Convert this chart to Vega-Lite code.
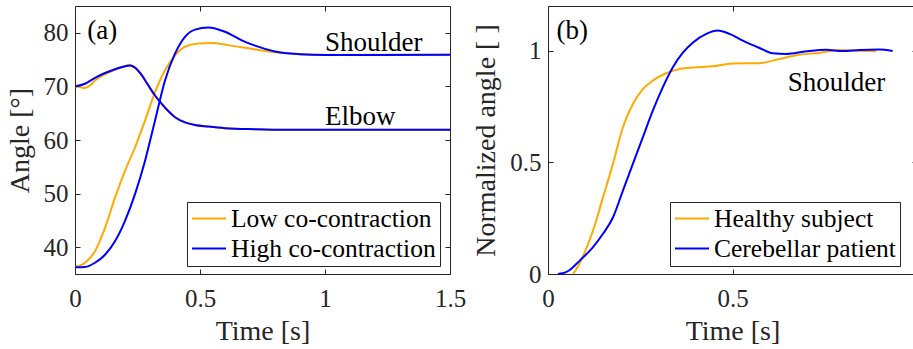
{
  "$schema": "https://vega.github.io/schema/vega-lite/v6.json",
  "background": "white",
  "padding": {"left": 5, "top": 5, "right": 0, "bottom": 0},
  "bounds": "flush",
  "spacing": 98,
  "config": {
    "font": "'Liberation Serif', 'DejaVu Serif', serif",
    "view": {"stroke": "#262626", "strokeWidth": 1},
    "axis": {
      "grid": false,
      "domain": false,
      "tickSize": -5,
      "tickColor": "#262626",
      "tickWidth": 1,
      "labelFont": "'Liberation Serif', 'DejaVu Serif', serif",
      "labelFontSize": 25,
      "labelColor": "#262626",
      "labelFlush": false,
      "labelOverlap": false,
      "labelBound": false,
      "labelExpr": "'' + datum.value",
      "titleFont": "'Liberation Serif', 'DejaVu Serif', serif",
      "titleFontSize": 28,
      "titleFontWeight": "normal",
      "titleColor": "#262626"
    },
    "axisX": {"labelPadding": 17, "titlePadding": 6},
    "axisY": {"labelPadding": 12, "titlePadding": 9},
    "legend": {
      "symbolType": "stroke",
      "symbolSize": 1156,
      "symbolStrokeWidth": 2,
      "labelFont": "'Liberation Serif', 'DejaVu Serif', serif",
      "labelFontSize": 25.5,
      "labelColor": "#000000",
      "labelLimit": 0,
      "labelOffset": 4,
      "padding": 4,
      "rowPadding": 4,
      "clipHeight": 25,
      "strokeColor": "#262626",
      "fillColor": "white"
    }
  },
  "datasets": {
    "shoulderLow": [
      {"t": 0, "v": 36.25, "cond": "Low co-contraction", "joint": "Shoulder"},
      {"t": 0.04, "v": 37.1, "cond": "Low co-contraction", "joint": "Shoulder"},
      {"t": 0.08, "v": 39.25, "cond": "Low co-contraction", "joint": "Shoulder"},
      {"t": 0.12, "v": 43.6, "cond": "Low co-contraction", "joint": "Shoulder"},
      {"t": 0.16, "v": 49.25, "cond": "Low co-contraction", "joint": "Shoulder"},
      {"t": 0.2, "v": 54.25, "cond": "Low co-contraction", "joint": "Shoulder"},
      {"t": 0.24, "v": 58.6, "cond": "Low co-contraction", "joint": "Shoulder"},
      {"t": 0.28, "v": 63.6, "cond": "Low co-contraction", "joint": "Shoulder"},
      {"t": 0.32, "v": 68.9, "cond": "Low co-contraction", "joint": "Shoulder"},
      {"t": 0.36, "v": 73.0, "cond": "Low co-contraction", "joint": "Shoulder"},
      {"t": 0.4, "v": 75.8, "cond": "Low co-contraction", "joint": "Shoulder"},
      {"t": 0.44, "v": 77.4, "cond": "Low co-contraction", "joint": "Shoulder"},
      {"t": 0.493, "v": 78.0, "cond": "Low co-contraction", "joint": "Shoulder"},
      {"t": 0.547, "v": 78.1, "cond": "Low co-contraction", "joint": "Shoulder"},
      {"t": 0.613, "v": 77.7, "cond": "Low co-contraction", "joint": "Shoulder"},
      {"t": 0.72, "v": 76.9, "cond": "Low co-contraction", "joint": "Shoulder"},
      {"t": 0.8, "v": 76.35, "cond": "Low co-contraction", "joint": "Shoulder"},
      {"t": 0.9, "v": 76.0, "cond": "Low co-contraction", "joint": "Shoulder"},
      {"t": 1.0, "v": 75.9, "cond": "Low co-contraction", "joint": "Shoulder"},
      {"t": 1.5, "v": 75.9, "cond": "Low co-contraction", "joint": "Shoulder"}
    ],
    "elbowLow": [
      {"t": 0, "v": 70.0, "cond": "Low co-contraction", "joint": "Elbow"},
      {"t": 0.02, "v": 69.85, "cond": "Low co-contraction", "joint": "Elbow"},
      {"t": 0.04, "v": 69.7, "cond": "Low co-contraction", "joint": "Elbow"},
      {"t": 0.06, "v": 70.2, "cond": "Low co-contraction", "joint": "Elbow"},
      {"t": 0.08, "v": 71.1, "cond": "Low co-contraction", "joint": "Elbow"},
      {"t": 0.12, "v": 72.25, "cond": "Low co-contraction", "joint": "Elbow"},
      {"t": 0.16, "v": 73.1, "cond": "Low co-contraction", "joint": "Elbow"},
      {"t": 0.2, "v": 73.75, "cond": "Low co-contraction", "joint": "Elbow"},
      {"t": 0.216, "v": 74.05, "cond": "Low co-contraction", "joint": "Elbow"},
      {"t": 0.24, "v": 73.5, "cond": "Low co-contraction", "joint": "Elbow"},
      {"t": 0.267, "v": 72.1, "cond": "Low co-contraction", "joint": "Elbow"},
      {"t": 0.293, "v": 70.2, "cond": "Low co-contraction", "joint": "Elbow"},
      {"t": 0.32, "v": 68.3, "cond": "Low co-contraction", "joint": "Elbow"},
      {"t": 0.347, "v": 66.75, "cond": "Low co-contraction", "joint": "Elbow"},
      {"t": 0.373, "v": 65.4, "cond": "Low co-contraction", "joint": "Elbow"},
      {"t": 0.4, "v": 64.25, "cond": "Low co-contraction", "joint": "Elbow"},
      {"t": 0.44, "v": 63.3, "cond": "Low co-contraction", "joint": "Elbow"},
      {"t": 0.48, "v": 62.8, "cond": "Low co-contraction", "joint": "Elbow"},
      {"t": 0.533, "v": 62.5, "cond": "Low co-contraction", "joint": "Elbow"},
      {"t": 0.6, "v": 62.2, "cond": "Low co-contraction", "joint": "Elbow"},
      {"t": 0.72, "v": 62.0, "cond": "Low co-contraction", "joint": "Elbow"},
      {"t": 0.85, "v": 61.9, "cond": "Low co-contraction", "joint": "Elbow"},
      {"t": 1.5, "v": 61.9, "cond": "Low co-contraction", "joint": "Elbow"}
    ],
    "shoulderHigh": [
      {"t": 0, "v": 36.25, "cond": "High co-contraction", "joint": "Shoulder"},
      {"t": 0.04, "v": 36.3, "cond": "High co-contraction", "joint": "Shoulder"},
      {"t": 0.08, "v": 37.1, "cond": "High co-contraction", "joint": "Shoulder"},
      {"t": 0.12, "v": 38.6, "cond": "High co-contraction", "joint": "Shoulder"},
      {"t": 0.16, "v": 41.1, "cond": "High co-contraction", "joint": "Shoulder"},
      {"t": 0.2, "v": 44.9, "cond": "High co-contraction", "joint": "Shoulder"},
      {"t": 0.24, "v": 49.9, "cond": "High co-contraction", "joint": "Shoulder"},
      {"t": 0.28, "v": 56.1, "cond": "High co-contraction", "joint": "Shoulder"},
      {"t": 0.32, "v": 63.6, "cond": "High co-contraction", "joint": "Shoulder"},
      {"t": 0.36, "v": 71.1, "cond": "High co-contraction", "joint": "Shoulder"},
      {"t": 0.4, "v": 76.1, "cond": "High co-contraction", "joint": "Shoulder"},
      {"t": 0.44, "v": 79.25, "cond": "High co-contraction", "joint": "Shoulder"},
      {"t": 0.48, "v": 80.6, "cond": "High co-contraction", "joint": "Shoulder"},
      {"t": 0.533, "v": 81.0, "cond": "High co-contraction", "joint": "Shoulder"},
      {"t": 0.6, "v": 80.2, "cond": "High co-contraction", "joint": "Shoulder"},
      {"t": 0.667, "v": 78.6, "cond": "High co-contraction", "joint": "Shoulder"},
      {"t": 0.72, "v": 77.6, "cond": "High co-contraction", "joint": "Shoulder"},
      {"t": 0.8, "v": 76.5, "cond": "High co-contraction", "joint": "Shoulder"},
      {"t": 0.9, "v": 76.0, "cond": "High co-contraction", "joint": "Shoulder"},
      {"t": 1.0, "v": 75.85, "cond": "High co-contraction", "joint": "Shoulder"},
      {"t": 1.5, "v": 75.9, "cond": "High co-contraction", "joint": "Shoulder"}
    ],
    "elbowHigh": [
      {"t": 0, "v": 70.0, "cond": "High co-contraction", "joint": "Elbow"},
      {"t": 0.04, "v": 70.5, "cond": "High co-contraction", "joint": "Elbow"},
      {"t": 0.08, "v": 71.6, "cond": "High co-contraction", "joint": "Elbow"},
      {"t": 0.12, "v": 72.5, "cond": "High co-contraction", "joint": "Elbow"},
      {"t": 0.16, "v": 73.2, "cond": "High co-contraction", "joint": "Elbow"},
      {"t": 0.2, "v": 73.75, "cond": "High co-contraction", "joint": "Elbow"},
      {"t": 0.22, "v": 73.9, "cond": "High co-contraction", "joint": "Elbow"},
      {"t": 0.24, "v": 73.5, "cond": "High co-contraction", "joint": "Elbow"},
      {"t": 0.267, "v": 72.1, "cond": "High co-contraction", "joint": "Elbow"},
      {"t": 0.293, "v": 70.2, "cond": "High co-contraction", "joint": "Elbow"},
      {"t": 0.32, "v": 68.3, "cond": "High co-contraction", "joint": "Elbow"},
      {"t": 0.347, "v": 66.75, "cond": "High co-contraction", "joint": "Elbow"},
      {"t": 0.373, "v": 65.4, "cond": "High co-contraction", "joint": "Elbow"},
      {"t": 0.4, "v": 64.25, "cond": "High co-contraction", "joint": "Elbow"},
      {"t": 0.44, "v": 63.3, "cond": "High co-contraction", "joint": "Elbow"},
      {"t": 0.48, "v": 62.8, "cond": "High co-contraction", "joint": "Elbow"},
      {"t": 0.533, "v": 62.5, "cond": "High co-contraction", "joint": "Elbow"},
      {"t": 0.6, "v": 62.2, "cond": "High co-contraction", "joint": "Elbow"},
      {"t": 0.72, "v": 62.0, "cond": "High co-contraction", "joint": "Elbow"},
      {"t": 0.85, "v": 61.9, "cond": "High co-contraction", "joint": "Elbow"},
      {"t": 1.5, "v": 61.9, "cond": "High co-contraction", "joint": "Elbow"}
    ],
    "healthy": [
      {"t": 0.068, "v": 0, "cond": "Healthy subject"},
      {"t": 0.08, "v": 0.03, "cond": "Healthy subject"},
      {"t": 0.095, "v": 0.08, "cond": "Healthy subject"},
      {"t": 0.122, "v": 0.194, "cond": "Healthy subject"},
      {"t": 0.149, "v": 0.343, "cond": "Healthy subject"},
      {"t": 0.176, "v": 0.493, "cond": "Healthy subject"},
      {"t": 0.203, "v": 0.657, "cond": "Healthy subject"},
      {"t": 0.23, "v": 0.761, "cond": "Healthy subject"},
      {"t": 0.257, "v": 0.828, "cond": "Healthy subject"},
      {"t": 0.284, "v": 0.866, "cond": "Healthy subject"},
      {"t": 0.32, "v": 0.899, "cond": "Healthy subject"},
      {"t": 0.357, "v": 0.918, "cond": "Healthy subject"},
      {"t": 0.393, "v": 0.925, "cond": "Healthy subject"},
      {"t": 0.447, "v": 0.93, "cond": "Healthy subject"},
      {"t": 0.5, "v": 0.943, "cond": "Healthy subject"},
      {"t": 0.573, "v": 0.944, "cond": "Healthy subject"},
      {"t": 0.627, "v": 0.963, "cond": "Healthy subject"},
      {"t": 0.681, "v": 0.982, "cond": "Healthy subject"},
      {"t": 0.735, "v": 0.99, "cond": "Healthy subject"},
      {"t": 0.789, "v": 1.003, "cond": "Healthy subject"},
      {"t": 0.84, "v": 1.0, "cond": "Healthy subject"},
      {"t": 0.889, "v": 0.997, "cond": "Healthy subject"}
    ],
    "patient": [
      {"t": 0.027, "v": 0, "cond": "Cerebellar patient"},
      {"t": 0.04, "v": 0.003, "cond": "Cerebellar patient"},
      {"t": 0.059, "v": 0.018, "cond": "Cerebellar patient"},
      {"t": 0.086, "v": 0.06, "cond": "Cerebellar patient"},
      {"t": 0.122, "v": 0.12, "cond": "Cerebellar patient"},
      {"t": 0.149, "v": 0.18, "cond": "Cerebellar patient"},
      {"t": 0.176, "v": 0.253, "cond": "Cerebellar patient"},
      {"t": 0.203, "v": 0.373, "cond": "Cerebellar patient"},
      {"t": 0.23, "v": 0.493, "cond": "Cerebellar patient"},
      {"t": 0.257, "v": 0.612, "cond": "Cerebellar patient"},
      {"t": 0.284, "v": 0.731, "cond": "Cerebellar patient"},
      {"t": 0.311, "v": 0.836, "cond": "Cerebellar patient"},
      {"t": 0.338, "v": 0.925, "cond": "Cerebellar patient"},
      {"t": 0.366, "v": 0.992, "cond": "Cerebellar patient"},
      {"t": 0.393, "v": 1.037, "cond": "Cerebellar patient"},
      {"t": 0.429, "v": 1.075, "cond": "Cerebellar patient"},
      {"t": 0.46, "v": 1.09, "cond": "Cerebellar patient"},
      {"t": 0.492, "v": 1.075, "cond": "Cerebellar patient"},
      {"t": 0.528, "v": 1.045, "cond": "Cerebellar patient"},
      {"t": 0.573, "v": 1.012, "cond": "Cerebellar patient"},
      {"t": 0.609, "v": 0.988, "cond": "Cerebellar patient"},
      {"t": 0.645, "v": 0.985, "cond": "Cerebellar patient"},
      {"t": 0.7, "v": 0.997, "cond": "Cerebellar patient"},
      {"t": 0.754, "v": 1.004, "cond": "Cerebellar patient"},
      {"t": 0.799, "v": 0.998, "cond": "Cerebellar patient"},
      {"t": 0.844, "v": 1.003, "cond": "Cerebellar patient"},
      {"t": 0.898, "v": 1.005, "cond": "Cerebellar patient"},
      {"t": 0.934, "v": 0.999, "cond": "Cerebellar patient"}
    ],
    "notesA": [
      {"t": 0.049, "v": 80.3, "label": "(a)"},
      {"t": 1.0, "v": 78.1, "label": "Shoulder"},
      {"t": 1.0, "v": 64.25, "label": "Elbow"}
    ],
    "notesB": [
      {"t": 0.023, "v": 1.088, "label": "(b)"},
      {"t": 0.65, "v": 0.856, "label": "Shoulder"}
    ]
  },
  "resolve": {"scale": {"color": "independent"}, "legend": {"color": "independent"}},
  "hconcat": [
    {
      "width": 375,
      "height": 268,
      "resolve": {"axis": {"x": "independent", "y": "independent"}},
      "layer": [
        {
          "data": {"name": "shoulderLow"},
          "mark": {"type": "line", "strokeWidth": 2, "interpolate": "monotone"},
          "encoding": {
            "x": {"field": "t", "type": "quantitative", "scale": {"domain": [0, 1.5], "nice": false, "zero": false},
                  "axis": {"values": [0, 0.5, 1, 1.5], "title": "Time [s]"}},
            "y": {"field": "v", "type": "quantitative", "scale": {"domain": [35, 85], "nice": false, "zero": false},
                  "axis": {"values": [40, 50, 60, 70, 80], "title": "Angle [°]"}},
            "color": {"field": "cond", "type": "nominal",
                      "scale": {"domain": ["Low co-contraction", "High co-contraction"], "range": ["#FFAA00", "#0000FF"]},
                      "legend": {"title": null, "orient": "none", "legendX": 112, "legendY": 196}},
            "detail": {"field": "joint"}
          }
        },
        {
          "data": {"name": "elbowLow"},
          "mark": {"type": "line", "strokeWidth": 2, "interpolate": "monotone"},
          "encoding": {
            "x": {"field": "t", "type": "quantitative", "scale": {"domain": [0, 1.5], "nice": false, "zero": false}, "axis": null},
            "y": {"field": "v", "type": "quantitative", "scale": {"domain": [35, 85], "nice": false, "zero": false}, "axis": null},
            "color": {"field": "cond", "type": "nominal"}
          }
        },
        {
          "data": {"name": "shoulderHigh"},
          "mark": {"type": "line", "strokeWidth": 2, "interpolate": "monotone"},
          "encoding": {
            "x": {"field": "t", "type": "quantitative", "scale": {"domain": [0, 1.5], "nice": false, "zero": false}, "axis": null},
            "y": {"field": "v", "type": "quantitative", "scale": {"domain": [35, 85], "nice": false, "zero": false}, "axis": null},
            "color": {"field": "cond", "type": "nominal"}
          }
        },
        {
          "data": {"name": "elbowHigh"},
          "mark": {"type": "line", "strokeWidth": 2, "interpolate": "monotone"},
          "encoding": {
            "x": {"field": "t", "type": "quantitative", "scale": {"domain": [0, 1.5], "nice": false, "zero": false}, "axis": null},
            "y": {"field": "v", "type": "quantitative", "scale": {"domain": [35, 85], "nice": false, "zero": false}, "axis": null},
            "color": {"field": "cond", "type": "nominal"}
          }
        },
        {
          "data": {"name": "notesA"},
          "mark": {"type": "text", "align": "left", "baseline": "middle", "fontSize": 27, "color": "#000000"},
          "encoding": {
            "x": {"field": "t", "type": "quantitative", "scale": {"domain": [0, 1.5], "nice": false, "zero": false}, "axis": null},
            "y": {"field": "v", "type": "quantitative", "scale": {"domain": [35, 85], "nice": false, "zero": false}, "axis": null},
            "text": {"field": "label"}
          }
        },
        {
          "data": {"name": "shoulderHigh"},
          "mark": {"type": "point", "opacity": 0},
          "encoding": {
            "x": {"field": "t", "type": "quantitative", "scale": {"domain": [0, 1.5], "nice": false, "zero": false},
                  "axis": {"orient": "top", "values": [0, 0.5, 1, 1.5], "labels": false, "title": null}},
            "y": {"field": "v", "type": "quantitative", "scale": {"domain": [35, 85], "nice": false, "zero": false},
                  "axis": {"orient": "right", "values": [40, 50, 60, 70, 80], "labels": false, "title": null}}
          }
        }
      ]
    },
    {
      "width": 369,
      "height": 268,
      "resolve": {"axis": {"x": "independent", "y": "independent"}},
      "layer": [
        {
          "data": {"name": "healthy"},
          "mark": {"type": "line", "strokeWidth": 2, "interpolate": "monotone"},
          "encoding": {
            "x": {"field": "t", "type": "quantitative", "scale": {"domain": [0, 1], "nice": false, "zero": false},
                  "axis": {"values": [0, 0.5, 1], "title": "Time [s]"}},
            "y": {"field": "v", "type": "quantitative", "scale": {"domain": [0, 1.2], "nice": false, "zero": false},
                  "axis": {"values": [0, 0.5, 1], "title": "Normalized angle [ ]"}},
            "color": {"field": "cond", "type": "nominal",
                      "scale": {"domain": ["Healthy subject", "Cerebellar patient"], "range": ["#FFAA00", "#0000FF"]},
                      "legend": {"title": null, "orient": "none", "legendX": 122, "legendY": 196}}
          }
        },
        {
          "data": {"name": "patient"},
          "mark": {"type": "line", "strokeWidth": 2, "interpolate": "monotone"},
          "encoding": {
            "x": {"field": "t", "type": "quantitative", "scale": {"domain": [0, 1], "nice": false, "zero": false}, "axis": null},
            "y": {"field": "v", "type": "quantitative", "scale": {"domain": [0, 1.2], "nice": false, "zero": false}, "axis": null},
            "color": {"field": "cond", "type": "nominal"}
          }
        },
        {
          "data": {"name": "notesB"},
          "mark": {"type": "text", "align": "left", "baseline": "middle", "fontSize": 27, "color": "#000000"},
          "encoding": {
            "x": {"field": "t", "type": "quantitative", "scale": {"domain": [0, 1], "nice": false, "zero": false}, "axis": null},
            "y": {"field": "v", "type": "quantitative", "scale": {"domain": [0, 1.2], "nice": false, "zero": false}, "axis": null},
            "text": {"field": "label"}
          }
        },
        {
          "data": {"name": "patient"},
          "mark": {"type": "point", "opacity": 0},
          "encoding": {
            "x": {"field": "t", "type": "quantitative", "scale": {"domain": [0, 1], "nice": false, "zero": false},
                  "axis": {"orient": "top", "values": [0, 0.5, 1], "labels": false, "title": null}},
            "y": {"field": "v", "type": "quantitative", "scale": {"domain": [0, 1.2], "nice": false, "zero": false},
                  "axis": {"orient": "right", "values": [0, 0.5, 1], "labels": false, "title": null}}
          }
        }
      ]
    }
  ]
}
